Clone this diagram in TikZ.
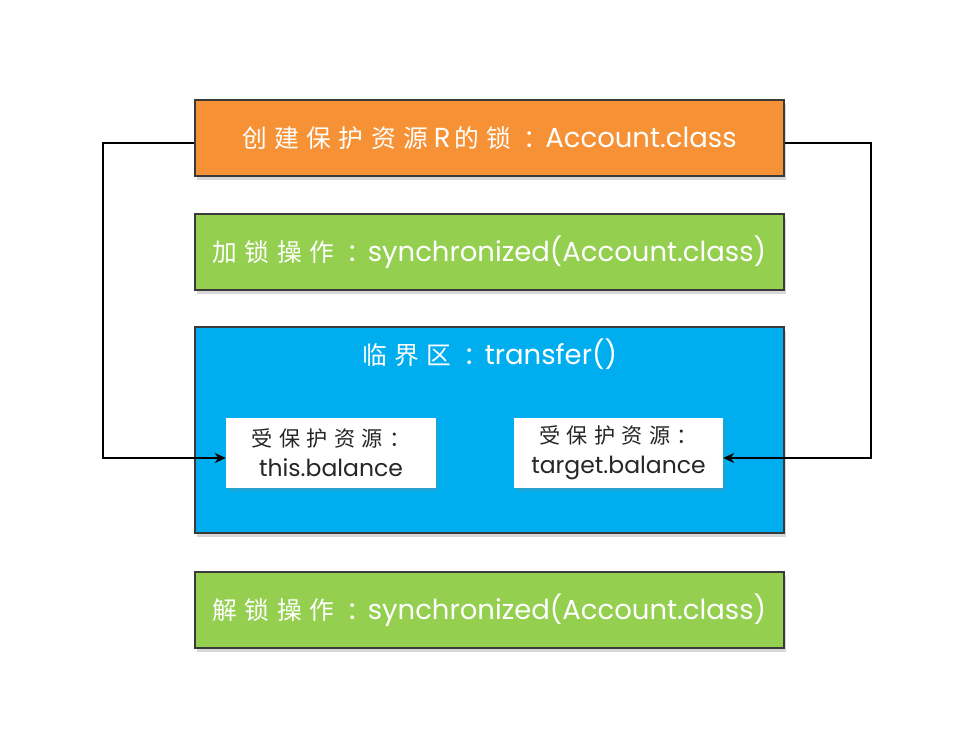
\documentclass[tikz,border=0pt]{standalone}
\usepackage{fontspec}
\setmainfont{Poppins}
\newfontfamily\cjk[LetterSpace=30,Scale=0.9]{Noto Sans CJK SC}
\usetikzlibrary{shadows,arrows.meta}
\definecolor{orangeC}{HTML}{F69235}
\definecolor{greenC}{HTML}{94CF50}
\definecolor{blueC}{HTML}{00AEEF}
\definecolor{borderC}{HTML}{3A3A3A}
\newcommand{\colonsep}{\hspace{12pt}{\cjk ：}\hspace{-3pt}}
\tikzset{
  bigbox/.style={draw=borderC, line width=1.5pt, minimum width=589pt, minimum height=76pt,
    inner sep=0pt, text=white, font=\fontsize{27.5}{32}\selectfont,
    drop shadow={opacity=0.3, shadow xshift=2pt, shadow yshift=-4pt}},
  resbox/.style={fill=white, draw=none, minimum height=70pt, align=center, inner sep=0pt,
    font=\fontsize{23.5}{30}\selectfont, text=black!85,
    drop shadow={opacity=0.25, shadow xshift=2pt, shadow yshift=-3pt}},
  conn/.style={line width=2pt, draw=black, -{Stealth[length=11pt,width=10pt]}}
}
\begin{document}
\begin{tikzpicture}[x=1pt,y=-1pt]
\useasboundingbox (0,0) rectangle (962,752);
\fill[white] (0,0) rectangle (962,752);
\node[bigbox, fill=orangeC] (lock) at (489.5,138) {{\cjk 创建保护资源}\hspace{6pt}R\hspace{4pt}{\cjk 的锁}\colonsep Account.class};
\node[bigbox, fill=greenC] (acquire) at (489.5,252) {{\cjk 加锁操作}\colonsep synchronized(Account.class)};
\node[bigbox, fill=blueC, minimum height=206pt] (critical) at (489.5,430) {};
\node[text=white, font=\fontsize{27.5}{32}\selectfont] (ctitle) at (489.5,354) {{\cjk 临界区}\colonsep transfer()};
\node[resbox, minimum width=210pt] (resA) at (331,453) {{\cjk 受保护资源：}\\this.balance};
\node[resbox, minimum width=209pt] (resB) at (618.5,453) {{\cjk 受保护资源：}\\target.balance};
\node[bigbox, fill=greenC] (release) at (489.5,610) {{\cjk 解锁操作}\colonsep synchronized(Account.class)};
\draw[conn] ([yshift=-5pt]lock.west) -- ++(-91,0) |- ([yshift=-5pt]resA.west);
\draw[conn] ([yshift=-5pt]lock.east) -- ++(86,0) |- ([yshift=-5pt]resB.east);
\end{tikzpicture}
\end{document}
